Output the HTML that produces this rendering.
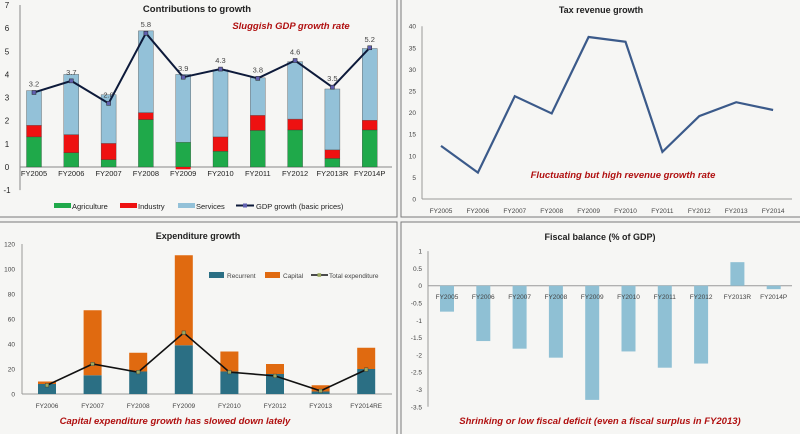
<!DOCTYPE html>
<html><head><meta charset="utf-8"><style>
html,body{margin:0;padding:0;background:#fff;}
svg{display:block;font-family:"Liberation Sans",Arial,sans-serif;}
</style></head><body>
<svg id="s" width="800" height="434" viewBox="0 0 800 434" xmlns="http://www.w3.org/2000/svg">
<rect x="0" y="0" width="800" height="434" fill="#f3f3f1"/>
<rect x="-1" y="-1" width="398" height="218" fill="#f6f6f4" stroke="#7a7a7a"/>
<rect x="401" y="-1" width="400" height="218" fill="#f6f6f4" stroke="#7a7a7a"/>
<rect x="-1" y="222" width="398" height="213" fill="#f6f6f4" stroke="#7a7a7a"/>
<rect x="401" y="222" width="400" height="213" fill="#f6f6f4" stroke="#7a7a7a"/>
<g id="g"></g>
</svg>
<script>
// Panel 1 data
const c1Cats=["FY2005","FY2006","FY2007","FY2008","FY2009","FY2010","FY2011","FY2012","FY2013R","FY2014P"];
const c1Agri=[1.3,0.62,0.32,2.05,1.07,0.68,1.58,1.6,0.37,1.6];
const c1Ind=[0.5,0.78,0.7,0.3,-0.1,0.62,0.65,0.47,0.37,0.42];
const c1Total=[3.3,4.0,3.12,5.88,4.0,4.2,3.85,4.55,3.37,5.12];
const c1Gdp=[3.22,3.72,2.75,5.78,3.88,4.23,3.83,4.6,3.45,5.15];
const c1Labels=["3.2","3.7","2.8","5.8","3.9","4.3","3.8","4.6","3.5","5.2"];
const c1Ticks=[7,6,5,4,3,2,1,0,-1];
// Panel 2 data
const c2Cats=["FY2005","FY2006","FY2007","FY2008","FY2009","FY2010","FY2011","FY2012","FY2013","FY2014"];
const c2Vals=[12.3,6.1,23.8,19.8,37.5,36.4,10.9,19.2,22.4,20.6];
const c2Ticks=[0,5,10,15,20,25,30,35,40];
// Panel 3 data
const c3Cats=["FY2006","FY2007","FY2008","FY2009","FY2010","FY2012","FY2013","FY2014RE"];
const c3Rec=[8,15,18,39,18,16,2,20];
const c3Cap=[2,52,15,72,16,8,5,17];
const c3Tot=[7,24,17.5,49,17.5,14.5,2.5,19.5];
const c3Ticks=[0,20,40,60,80,100,120];
// Panel 4 data
const c4Cats=["FY2005","FY2006","FY2007","FY2008","FY2009","FY2010","FY2011","FY2012","FY2013R","FY2014P"];
const c4Vals=[-0.75,-1.6,-1.82,-2.08,-3.3,-1.9,-2.37,-2.25,0.68,-0.1];
const c4Ticks=[1,0.5,0,-0.5,-1,-1.5,-2,-2.5,-3,-3.5];

const G=document.getElementById('g');
const NS="http://www.w3.org/2000/svg";
function mk(tag,at,name,parent){const e=document.createElementNS(NS,tag);for(const k in at)e.setAttribute(k,at[k]);


(parent||G).appendChild(e);return e;}
function tx(x,y,s,name,size,anchor,extra){const e=mk('text',Object.assign({x:x,y:y,'font-size':size||8,'text-anchor':anchor||'middle',fill:'#222'},extra||{}),name);e.textContent=s;return e;}

// ---------- Panel 1 ----------
const y1=v=>167-v*23.15, x1=i=>34+i*37.3;
mk('line',{x1:20,y1:y1(7),x2:20,y2:y1(-1),stroke:'#888'},'y-axis');
mk('line',{x1:20,y1:y1(0),x2:392,y2:y1(0),stroke:'#888'},'x-axis');
c1Ticks.forEach(t=>{tx(7,y1(t)+3,String(t),'y-tick-label',8,'middle');});
c1Cats.forEach((c,i)=>{
 const x=x1(i)-7.5,w=15;const a=c1Agri[i],d=c1Ind[i];
 mk('rect',{x:x,y:y1(a),width:w,height:y1(0)-y1(a),fill:'#1fa94a',stroke:'#333','stroke-width':0.3},'bar-agriculture');
 let ib=d>=0?a:0, it=d>=0?a+d:d;
 if(d>=0) mk('rect',{x:x,y:y1(a+d),width:w,height:y1(a)-y1(a+d),fill:'#ee1111',stroke:'#333','stroke-width':0.3},'bar-industry');
 else mk('rect',{x:x,y:y1(0),width:w,height:y1(d)-y1(0),fill:'#ee1111'},'bar-industry');
 const sb=d>=0?a+d:a;
 mk('rect',{x:x,y:y1(c1Total[i]),width:w,height:y1(sb)-y1(c1Total[i]),fill:'#93c1d8',stroke:'#555','stroke-width':0.4},'bar-services');
 tx(x1(i),176,c,'x-tick-label',7.5);
 tx(x1(i),y1(c1Gdp[i])-6,c1Labels[i],'gdp-value-label',7.5,'middle',{fill:'#444'});
});
mk('polyline',{points:c1Gdp.map((v,i)=>x1(i)+','+y1(v)).join(' '),fill:'none',stroke:'#0d1a3a','stroke-width':2},'gdp-growth-line');
c1Gdp.forEach((v,i)=>mk('rect',{x:x1(i)-2,y:y1(v)-2,width:4,height:4,fill:'#6060b0',stroke:'#222','stroke-width':0.5},'gdp-point'));
tx(197,12,'Contributions to growth','chart-title',9.5,'middle',{'font-weight':'bold'});
tx(291,29,'Sluggish GDP growth rate','annotation',9.5,'middle',{fill:'#b01010','font-weight':'bold','font-style':'italic'});
mk('rect',{x:54,y:203,width:17,height:5,fill:'#1fa94a'},'legend-swatch-agriculture');tx(72,209,'Agriculture','legend-label',7.5,'start');
mk('rect',{x:120,y:203,width:17,height:5,fill:'#ee1111'},'legend-swatch-industry');tx(138,209,'Industry','legend-label',7.5,'start');
mk('rect',{x:178,y:203,width:17,height:5,fill:'#93c1d8'},'legend-swatch-services');tx(196,209,'Services','legend-label',7.5,'start');
mk('line',{x1:236,y1:205.5,x2:254,y2:205.5,stroke:'#0d1a3a','stroke-width':2},'legend-line-gdp');
mk('rect',{x:243,y:203.5,width:4,height:4,fill:'#6060b0'},'legend-marker-gdp');tx(256,209,'GDP growth (basic prices)','legend-label',7.5,'start');

// ---------- Panel 2 ----------
const y2=v=>199-v*4.32, x2=i=>441+i*36.9;
mk('line',{x1:422,y1:y2(40),x2:422,y2:y2(0),stroke:'#999'},'y-axis');
mk('line',{x1:422,y1:y2(0),x2:792,y2:y2(0),stroke:'#999'},'x-axis');
c2Ticks.forEach(t=>tx(416,y2(t)+2.5,String(t),'y-tick-label',6.5,'end',{fill:'#444'}));
c2Cats.forEach((c,i)=>tx(x2(i),213,c,'x-tick-label',6.5,'middle',{fill:'#444'}));
mk('polyline',{points:c2Vals.map((v,i)=>x2(i)+','+y2(v)).join(' '),fill:'none',stroke:'#3b5a8a','stroke-width':2.2},'tax-revenue-line');
tx(601,13,'Tax revenue growth','chart-title',9,'middle',{'font-weight':'bold'});
tx(623,178,'Fluctuating but high revenue growth rate','annotation',9.5,'middle',{fill:'#b01010','font-weight':'bold','font-style':'italic'});

// ---------- Panel 3 ----------
const y3=v=>394-v*1.25, x3=i=>47+i*45.6;
mk('line',{x1:22,y1:y3(120),x2:22,y2:y3(0),stroke:'#999'},'y-axis');
mk('line',{x1:22,y1:y3(0),x2:392,y2:y3(0),stroke:'#999'},'x-axis');
c3Ticks.forEach(t=>tx(15,y3(t)+2.5,String(t),'y-tick-label',6.5,'end',{fill:'#444'}));
c3Cats.forEach((c,i)=>{
 const x=x3(i)-9,w=18;
 mk('rect',{x:x,y:y3(c3Rec[i]),width:w,height:y3(0)-y3(c3Rec[i]),fill:'#2b6f84'},'bar-recurrent');
 mk('rect',{x:x,y:y3(c3Rec[i]+c3Cap[i]),width:w,height:y3(c3Rec[i])-y3(c3Rec[i]+c3Cap[i]),fill:'#e06a10'},'bar-capital');
 tx(x3(i),408,c,'x-tick-label',6.5,'middle',{fill:'#444'});
});
mk('polyline',{points:c3Tot.map((v,i)=>x3(i)+','+y3(v)).join(' '),fill:'none',stroke:'#111','stroke-width':1.6},'total-expenditure-line');
c3Tot.forEach((v,i)=>mk('rect',{x:x3(i)-1.8,y:y3(v)-1.8,width:3.6,height:3.6,fill:'#9aa860',stroke:'#333','stroke-width':0.4},'total-point'));
tx(198,239,'Expenditure growth','chart-title',9,'middle',{'font-weight':'bold'});
mk('rect',{x:209,y:272,width:15,height:6,fill:'#2b6f84'},'legend-swatch-recurrent');tx(227,278,'Recurrent','legend-label',6.5,'start',{fill:'#444'});
mk('rect',{x:265,y:272,width:15,height:6,fill:'#e06a10'},'legend-swatch-capital');tx(283,278,'Capital','legend-label',6.5,'start',{fill:'#444'});
mk('line',{x1:311,y1:275,x2:328,y2:275,stroke:'#111','stroke-width':1.6},'legend-line-total');
mk('rect',{x:317.5,y:273.2,width:3.6,height:3.6,fill:'#9aa860'},'legend-marker-total');tx(329,278,'Total expenditure','legend-label',6.5,'start',{fill:'#444'});
tx(175,424,'Capital expenditure growth has slowed down lately','annotation',9.5,'middle',{fill:'#b01010','font-weight':'bold','font-style':'italic'});

// ---------- Panel 4 ----------
const y4=v=>285.7-v*34.6, x4=i=>447+i*36.3;
mk('line',{x1:428,y1:y4(1),x2:428,y2:y4(-3.5),stroke:'#999'},'y-axis');
mk('line',{x1:428,y1:y4(0),x2:792,y2:y4(0),stroke:'#999'},'x-axis');
c4Ticks.forEach(t=>tx(422,y4(t)+2.5,String(t),'y-tick-label',6.5,'end',{fill:'#444'}));
c4Vals.forEach((v,i)=>{
 const top=Math.min(y4(v),y4(0)),h=Math.abs(y4(v)-y4(0));
 mk('rect',{x:x4(i)-7,y:top,width:14,height:h,fill:'#8fc0d4'},'bar-fiscal-balance');
 tx(x4(i),299,c4Cats[i],'x-tick-label',6.5,'middle',{fill:'#444'});
});
tx(600,240,'Fiscal balance (% of GDP)','chart-title',9,'middle',{'font-weight':'bold'});
tx(600,424,'Shrinking or low fiscal deficit (even a fiscal surplus in FY2013)','annotation',9.5,'middle',{fill:'#b01010','font-weight':'bold','font-style':'italic'});
</script>
</body></html>
